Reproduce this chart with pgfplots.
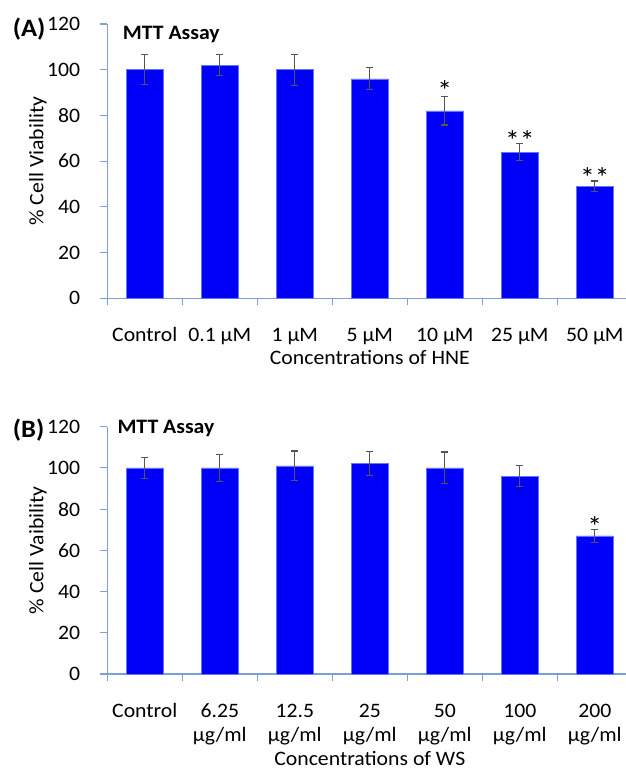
\documentclass[border=0pt]{standalone}
\usepackage{pgfplots}
\pgfplotsset{compat=1.18}
\usepackage{fontspec}
\setmainfont{Carlito}[FakeStretch=1.06]
\definecolor{barblue}{RGB}{0,0,250}
\definecolor{baredge}{RGB}{95,120,250}
\definecolor{axiscol}{RGB}{125,160,210}
\definecolor{errcol}{RGB}{85,85,85}
\tikzset{astnode/.style={anchor=base, inner sep=0pt, font=\fontsize{28}{30}\selectfont}}
\pgfplotsset{
  mtt/.style={
    scale only axis, width=525pt,
    xmin=-0.5, xmax=6.5, ymin=0, ymax=120,
    axis lines*=left,
    axis line style={axiscol, line width=1.1pt},
    xtick={-0.5,0.5,...,6.5}, x tick label as interval,
    ytick={0,20,...,120},
    tick align=outside, major tick length=7pt,
    tick style={axiscol, line width=1.1pt},
    ybar, bar width=36.7pt,
    clip=false,
    /pgf/number format/assume math mode=true,
    ticklabel style={font=\fontsize{20.5}{24.7}\selectfont, inner sep=0pt},
    yticklabel style={anchor=east, xshift=-20pt},
    xticklabel style={anchor=north, align=center, yshift=-21.7pt},
    label style={font=\fontsize{20.5}{24}\selectfont, inner sep=0pt},
    ylabel style={at={(axis description cs:-0.132,0.5)}, anchor=center},
  },
  bars/.style={fill=barblue, draw=baredge, line width=0.7pt,
    error bars/.cd, y dir=both, y explicit,
    error bar style={errcol, line width=1.1pt},
    error mark options={rotate=90, mark size=3.6pt, errcol, line width=1.1pt}},
}
\begin{document}
\begin{tikzpicture}
\useasboundingbox (0,0) rectangle (625pt,769pt);
% Panel A
\begin{axis}[mtt, height=274.3pt,
  at={(107.3pt,470.7pt)}, anchor=south west,
  xticklabels={Control, {0.1 µM}, {1 µM}, {5 µM}, {10 µM}, {25 µM}, {50 µM}},
  xticklabel style={text height=14pt},
  xlabel={Concentrations of HNE},
  xlabel style={at={(axis description cs:0.5,0)}, anchor=base, yshift=-66.7pt},
  ylabel={\% Cell Viability}]
\addplot[bars] coordinates {
  (0,100) +- (0,6.6)
  (1,102) +- (0,4.6)
  (2,100) +- (0,6.8)
  (3,96)  +- (0,4.8)
  (4,82)  +- (0,6.2)
  (5,64)  +- (0,3.9)
  (6,49)  +- (0,2.3)
};
\node[astnode] at (axis cs:4,86.6) {*};
\node[astnode] at (axis cs:5,64.5) {**};
\node[astnode] at (axis cs:6,48.6) {**};
\end{axis}
\node[anchor=base west, inner sep=0pt, font=\bfseries\fontsize{25}{28}\selectfont] at (12.7pt,732pt) {(A)};
\node[anchor=base west, inner sep=0pt, font=\bfseries\fontsize{20.5}{24}\selectfont] at (122.7pt,729.7pt) {MTT Assay};
% Panel B
\begin{axis}[mtt, height=247.3pt,
  at={(107.3pt,95pt)}, anchor=south west,
  xticklabels={{\vphantom{l}Control\\ \vphantom{g}}, {\vphantom{l}6.25\\µg/ml}, {\vphantom{l}12.5\\µg/ml}, {\vphantom{l}25\\µg/ml}, {\vphantom{l}50\\µg/ml}, {\vphantom{l}100\\µg/ml}, {\vphantom{l}200\\µg/ml}},
  xlabel={Concentrations of WS},
  xlabel style={at={(axis description cs:0.5,0)}, anchor=base, yshift=-91pt},
  ylabel={\% Cell Vaibility}]
\addplot[bars] coordinates {
  (0,100) +- (0,5.2)
  (1,100) +- (0,6.5)
  (2,101) +- (0,7.2)
  (3,102) +- (0,5.8)
  (4,100) +- (0,7.7)
  (5,96)  +- (0,5.0)
  (6,67)  +- (0,3.2)
};
\node[astnode] at (axis cs:6,66.7) {*};
\end{axis}
\node[anchor=base west, inner sep=0pt, font=\bfseries\fontsize{25}{28}\selectfont] at (12.7pt,331.7pt) {(B)};
\node[anchor=base west, inner sep=0pt, font=\bfseries\fontsize{20.5}{24}\selectfont] at (117.3pt,335.7pt) {MTT Assay};
\end{tikzpicture}
\end{document}
